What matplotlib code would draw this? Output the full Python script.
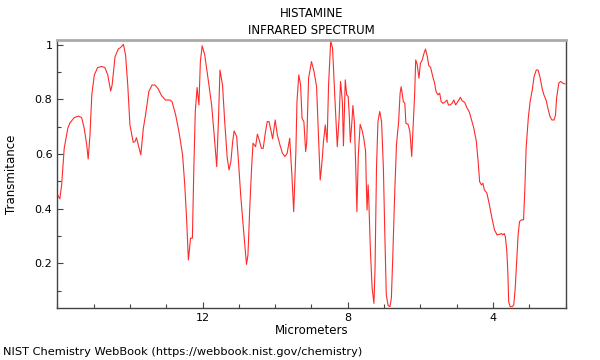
import matplotlib
matplotlib.use("Agg")
from matplotlib import pyplot as plt
from matplotlib.ticker import MultipleLocator
import numpy as np

# spectrum: wavelength (micrometers), transmittance
micrometers = [
    15.99, 15.93, 15.88, 15.81, 15.71, 15.65, 15.53, 15.42, 15.33, 15.26,
    15.19, 15.15, 15.10, 15.05, 14.98, 14.89, 14.78, 14.69, 14.61, 14.53,
    14.49, 14.41, 14.32, 14.26, 14.18, 14.12, 14.06, 14.00, 13.91, 13.86,
    13.82, 13.77, 13.70, 13.63, 13.57, 13.48, 13.39, 13.31, 13.22, 13.13,
    13.02, 12.90, 12.84, 12.74, 12.65, 12.55, 12.49, 12.44, 12.39, 12.33,
    12.28, 12.24, 12.20, 12.15, 12.10, 12.06, 12.01, 11.94, 11.85, 11.75,
    11.68, 11.61, 11.56, 11.52, 11.45, 11.39, 11.32, 11.27, 11.22, 11.17,
    11.13, 11.06, 11.01, 10.95, 10.86, 10.79, 10.75, 10.70, 10.65, 10.61,
    10.54, 10.49, 10.44, 10.38, 10.33, 10.28, 10.22, 10.17, 10.12, 10.07,
    10.00, 9.94, 9.87, 9.80, 9.73, 9.67, 9.60, 9.54, 9.49, 9.43,
    9.40, 9.35, 9.30, 9.26, 9.21, 9.16, 9.13, 9.08, 9.00, 8.93,
    8.86, 8.82, 8.76, 8.71, 8.67, 8.62, 8.57, 8.53, 8.47, 8.42,
    8.36, 8.29, 8.24, 8.20, 8.15, 8.12, 8.07, 8.03, 7.99, 7.96,
    7.93, 7.89, 7.86, 7.82, 7.78, 7.75, 7.71, 7.66, 7.61, 7.56,
    7.51, 7.49, 7.47, 7.44, 7.42, 7.38, 7.33, 7.28, 7.25, 7.21,
    7.17, 7.12, 7.07, 7.02, 6.98, 6.94, 6.89, 6.84, 6.80, 6.76,
    6.71, 6.66, 6.60, 6.56, 6.53, 6.47, 6.43, 6.40, 6.34, 6.29,
    6.24, 6.19, 6.16, 6.13, 6.09, 6.04, 6.00, 5.95, 5.90, 5.86,
    5.81, 5.77, 5.72, 5.66, 5.61, 5.57, 5.52, 5.47, 5.43, 5.38,
    5.33, 5.27, 5.23, 5.18, 5.13, 5.08, 5.03, 4.97, 4.90, 4.85,
    4.78, 4.72, 4.65, 4.58, 4.53, 4.46, 4.41, 4.37, 4.32, 4.28,
    4.24, 4.17, 4.10, 4.03, 3.96, 3.89, 3.82, 3.77, 3.73, 3.69,
    3.66, 3.62, 3.59, 3.57, 3.53, 3.47, 3.43, 3.39, 3.35, 3.31,
    3.27, 3.22, 3.16, 3.12, 3.09, 3.03, 2.98, 2.92, 2.87, 2.81,
    2.76, 2.71, 2.65, 2.60, 2.54, 2.49, 2.43, 2.38, 2.32, 2.28,
    2.25, 2.19, 2.14, 2.08, 2.02,
]
transmittance = [
    0.450, 0.436, 0.487, 0.621, 0.695, 0.715, 0.734, 0.739, 0.734, 0.695,
    0.634, 0.582, 0.670, 0.817, 0.890, 0.917, 0.921, 0.917, 0.890, 0.831,
    0.853, 0.957, 0.985, 0.990, 1.002, 0.963, 0.853, 0.707, 0.643, 0.646,
    0.660, 0.634, 0.597, 0.695, 0.743, 0.829, 0.853, 0.853, 0.839, 0.814,
    0.798, 0.798, 0.792, 0.743, 0.682, 0.597, 0.487, 0.365, 0.212, 0.292,
    0.292, 0.548, 0.756, 0.844, 0.780, 0.939, 0.997, 0.963, 0.878, 0.780,
    0.670, 0.554, 0.731, 0.908, 0.853, 0.719, 0.585, 0.542, 0.572, 0.646,
    0.685, 0.664, 0.572, 0.450, 0.304, 0.196, 0.230, 0.402, 0.548, 0.640,
    0.627, 0.673, 0.652, 0.621, 0.621, 0.670, 0.719, 0.719, 0.689, 0.656,
    0.725, 0.670, 0.634, 0.603, 0.591, 0.603, 0.658, 0.524, 0.389, 0.609,
    0.792, 0.890, 0.853, 0.731, 0.719, 0.609, 0.646, 0.878, 0.939, 0.902,
    0.847, 0.707, 0.505, 0.572, 0.646, 0.707, 0.643, 0.853, 1.015, 0.988,
    0.817, 0.627, 0.731, 0.866, 0.792, 0.630, 0.872, 0.817, 0.811, 0.743,
    0.643, 0.713, 0.778, 0.719, 0.548, 0.389, 0.597, 0.709, 0.689, 0.658,
    0.609, 0.487, 0.395, 0.487, 0.426, 0.255, 0.108, 0.053, 0.182, 0.548,
    0.719, 0.756, 0.719, 0.548, 0.304, 0.084, 0.045, 0.041, 0.072, 0.230,
    0.450, 0.634, 0.719, 0.823, 0.847, 0.792, 0.786, 0.713, 0.709, 0.682,
    0.591, 0.731, 0.817, 0.945, 0.929, 0.878, 0.933, 0.945, 0.970, 0.985,
    0.957, 0.924, 0.918, 0.884, 0.860, 0.829, 0.817, 0.823, 0.792, 0.786,
    0.790, 0.798, 0.780, 0.780, 0.786, 0.798, 0.780, 0.792, 0.808, 0.795,
    0.789, 0.770, 0.753, 0.719, 0.695, 0.646, 0.572, 0.499, 0.487, 0.493,
    0.469, 0.457, 0.414, 0.365, 0.322, 0.304, 0.306, 0.309, 0.304, 0.309,
    0.296, 0.243, 0.157, 0.059, 0.041, 0.041, 0.047, 0.108, 0.206, 0.304,
    0.353, 0.359, 0.359, 0.487, 0.621, 0.731, 0.792, 0.835, 0.884, 0.908,
    0.908, 0.884, 0.841, 0.817, 0.798, 0.768, 0.737, 0.725, 0.725, 0.743,
    0.805, 0.860, 0.866, 0.860, 0.857,
]
x_ticks = [12, 8, 4]
y_ticks = [0.2, 0.4, 0.6, 0.8, 1.0]
y_labels = ["0.2", "0.4", "0.6", "0.8", "1"]

fig = plt.figure(figsize=(6, 3.6), dpi=100)
ax = fig.add_axes([0.0955, 0.1444, 0.8473, 0.7445])

ax.plot(micrometers, transmittance, "-", color="#ff2a2a", linewidth=0.8)

ax.set_xlim(16, 2)
ax.set_ylim(0.036, 1.018)
ax.set_xticks(x_ticks)
ax.xaxis.set_minor_locator(MultipleLocator(1))
ax.set_yticks(y_ticks)
ax.set_yticklabels(y_labels)
ax.yaxis.set_minor_locator(MultipleLocator(0.1))
ax.tick_params(which="both", direction="in", colors="#444444", labelcolor="black", labelsize=8)
ax.tick_params(which="major", length=4, width=0.8)
ax.tick_params(which="minor", length=3, width=0.8)

for side in ["left", "right", "bottom"]:
    ax.spines[side].set_color("#444444")
    ax.spines[side].set_linewidth(1)
ax.spines["top"].set_color("#aaaaaa")
ax.spines["top"].set_linewidth(2)

ax.set_xlabel("Micrometers", fontsize=8.5, labelpad=1)
ax.set_ylabel("Transmitance", fontsize=8.5, labelpad=12)

fig.text(0.519, 0.963, "HISTAMINE", ha="center", va="center", fontsize=8.5)
fig.text(0.519, 0.915, "INFRARED SPECTRUM", ha="center", va="center", fontsize=8.5)
fig.text(0.005, 0.022, "NIST Chemistry WebBook (https://webbook.nist.gov/chemistry)",
         ha="left", va="center", fontsize=8.2)

plt.savefig("out.png", dpi=100)
